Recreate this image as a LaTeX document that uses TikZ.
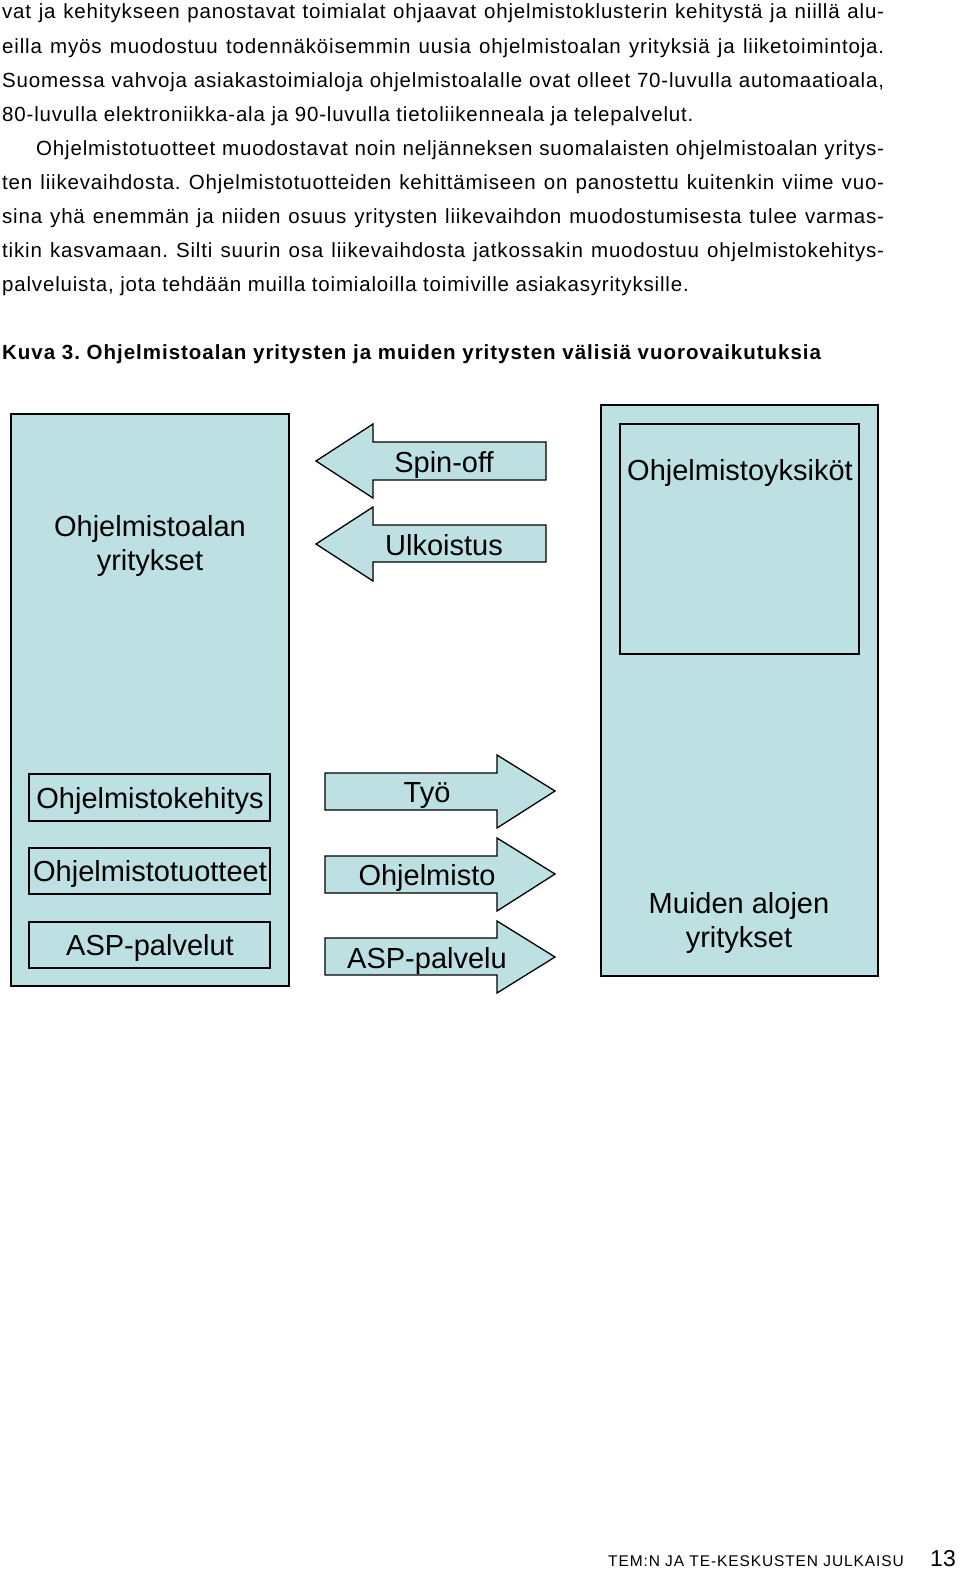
\documentclass[tikz,border=0pt]{standalone}
\usepackage{fontspec}
\setmainfont{Liberation Sans}
\newfontfamily\bodyfont[LetterSpace=4]{Liberation Sans}
\newfontfamily\capfont[LetterSpace=4.8]{Liberation Sans}
\newfontfamily\footfont[LetterSpace=5.8]{Liberation Sans}
\frenchspacing
\definecolor{boxfill}{RGB}{189,225,227}
\tikzset{
  body/.style={anchor=base west,inner sep=0pt,font=\bodyfont\fontsize{20.5}{24}\selectfont},
  bigbox/.style={draw=black,line width=1.5pt,fill=boxfill},
  smallbox/.style={draw=black,line width=1.3pt,fill=boxfill},
  blockarrow/.style={draw=black,line width=1.3pt,fill=boxfill,line join=miter},
  lbl/.style={inner sep=0pt,font=\fontsize{29}{34}\selectfont,text height=21pt,text depth=0pt},
  lbltwo/.style={inner sep=0pt,font=\fontsize{29}{34}\selectfont,align=center}
}
\begin{document}
\begin{tikzpicture}[x=1pt,y=-1pt]
\useasboundingbox (0,0) rectangle (960,1571);
% body text
\node[body] (l1) at (2,19) {\makebox[882pt][s]{vat ja kehitykseen panostavat toimialat ohjaavat ohjelmistoklusterin kehitystä ja niillä alu-}};
\node[body] (l2) at (2,53) {\makebox[882pt][s]{eilla myös muodostuu todennäköisemmin uusia ohjelmistoalan yrityksiä ja liiketoimintoja.}};
\node[body] (l3) at (2,87) {\makebox[882pt][s]{Suomessa vahvoja asiakastoimialoja ohjelmistoalalle ovat olleet 70-luvulla automaatioala,}};
\node[body] (l4) at (2,121) {80-luvulla elektroniikka-ala ja 90-luvulla tietoliikenneala ja telepalvelut.};
\node[body] (l5) at (36,155) {\makebox[848pt][s]{Ohjelmistotuotteet muodostavat noin neljänneksen suomalaisten ohjelmistoalan yritys-}};
\node[body] (l6) at (2,189) {\makebox[882pt][s]{ten liikevaihdosta. Ohjelmistotuotteiden kehittämiseen on panostettu kuitenkin viime vuo-}};
\node[body] (l7) at (2,223) {\makebox[882pt][s]{sina yhä enemmän ja niiden osuus yritysten liikevaihdon muodostumisesta tulee varmas-}};
\node[body] (l8) at (2,257) {\makebox[882pt][s]{tikin kasvamaan. Silti suurin osa liikevaihdosta jatkossakin muodostuu ohjelmistokehitys-}};
\node[body] (l9) at (2,291) {palveluista, jota tehdään muilla toimialoilla toimiville asiakasyrityksille.};
\node[body,font=\capfont\fontsize{20.5}{24}\selectfont\bfseries] (cap) at (2,359) {Kuva 3. Ohjelmistoalan yritysten ja muiden yritysten välisiä vuorovaikutuksia};
% left big box
\draw[bigbox] (11,414) rectangle (289,986);
\node[lbltwo] (oay) at (150,546) {Ohjelmistoalan\\yritykset};
\draw[smallbox] (29,774) rectangle (270,821);
\node[lbl] (okh) at (150,798) {Ohjelmistokehitys};
\draw[smallbox] (29,848) rectangle (270,894);
\node[lbl] (otu) at (150,871) {Ohjelmistotuotteet};
\draw[smallbox] (29,922) rectangle (270,968);
\node[lbl] (aspl) at (150,945) {ASP-palvelut};
% right big box
\draw[bigbox] (601,405) rectangle (878,976);
\draw[smallbox] (620,424) rectangle (859,654);
\node[lbl] (oyk) at (740,470) {Ohjelmistoyksiköt};
\node[lbltwo] (may) at (739,923) {Muiden alojen\\yritykset};
% left-pointing arrows
\draw[blockarrow] (546,442) -- (373,442) -- (373,424) -- (316,461) -- (373,498) -- (373,480) -- (546,480) -- cycle;
\node[lbl] (spin) at (444,462) {Spin-off};
\draw[blockarrow] (546,525) -- (373,525) -- (373,507) -- (316,544) -- (373,581) -- (373,562) -- (546,562) -- cycle;
\node[lbl] (ulk) at (444,545) {Ulkoistus};
% right-pointing arrows
\draw[blockarrow] (325,773) -- (497,773) -- (497,755) -- (555,791) -- (497,828) -- (497,810) -- (325,810) -- cycle;
\node[lbl] (tyo) at (427,792) {Työ};
\draw[blockarrow] (325,856) -- (497,856) -- (497,838) -- (555,874) -- (497,911) -- (497,893) -- (325,893) -- cycle;
\node[lbl] (ohj) at (427,875) {Ohjelmisto};
\draw[blockarrow] (325,938) -- (497,938) -- (497,921) -- (555,957) -- (497,993) -- (497,975) -- (325,975) -- cycle;
\node[lbl] (asp) at (427,958) {ASP-palvelu};
% footer
\node[anchor=base west,inner sep=0pt,font=\footfont\fontsize{15.5}{18}\selectfont] (foot) at (608,1566) {TEM:N JA TE-KESKUSTEN JULKAISU};
\node[anchor=base east,inner sep=0pt,font=\fontsize{23}{26}\selectfont] (pg) at (956,1566) {13};
\end{tikzpicture}
\end{document}
